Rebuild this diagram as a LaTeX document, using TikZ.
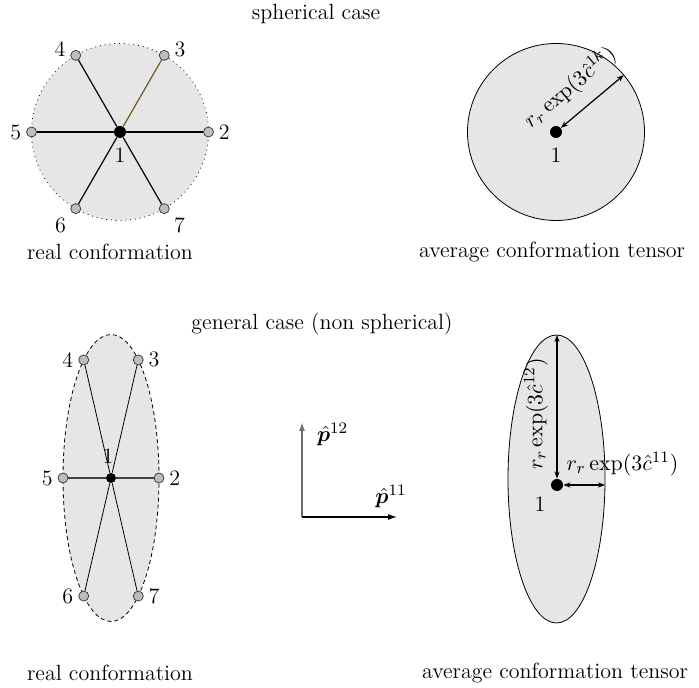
\documentclass[tikz,border=0pt]{standalone}
\usepackage{amsmath,amssymb,bm}
\usepackage{tikz}
\usetikzlibrary{arrows.meta,positioning,calc,shapes.geometric}
\definecolor{myccloud}{HTML}{E6E6E6}
\definecolor{mycbead}{HTML}{BDBDBD}
\definecolor{mycolive}{HTML}{6B5B1E}
\definecolor{mycaxis}{HTML}{6E6E6E}

\begin{document}
\begin{tikzpicture}[
 x=0.5pt,y=0.5pt,
 font=\fontsize{11}{13}\selectfont,
 cloud/.style={fill=myccloud,inner sep=0pt,outer sep=0pt},
 bead/.style={circle,draw=black!75,fill=mycbead,inner sep=0pt,minimum size=5pt},
 ctr/.style={circle,fill=black,inner sep=0pt,minimum size=6pt},
 bond/.style={semithick},
 a/.style={{Stealth[length=3.5pt,width=2.6pt]}-{Stealth[length=3.5pt,width=2.6pt]},semithick},
 ax/.style={-{Latex[length=4.5pt,width=3pt]},semithick},
 label distance=-1pt
]
\useasboundingbox (0,0) rectangle (699,688);

% spherical case
\node (tsph) at (316,674) {spherical case};
\node[cloud,circle,draw,dotted,minimum size=88.5pt] (lc) at (120,556) {};
\node[ctr,label={[label distance=1pt]below:1}] (l1) at (lc.center) {};
\foreach \n/\ang/\pos/\dy in {2/0/right/0,3/60/right/3,4/120/left/3,5/180/left/0,6/240/215/0,7/300/-35/0}
  \node[bead,label={[yshift=\dy pt]\pos:\n}] (l\n) at (lc.\ang) {};
\foreach \n/\c in {2/black,3/mycolive,4/black,5/black,6/black,7/black}
  \draw[bond,\c] (l1) -- (l\n);
\node (lreal) at (110,436) {real conformation};

\node[cloud,circle,draw,minimum size=88.5pt] (rc) at (556,556) {};
\node[ctr,label={[label distance=1pt]below:1}] (r1) at (rc.center) {};
\draw[a] (r1) -- node[sloped,above=3pt,pos=0.4] (rlab) {$r_r\exp(3\hat{c}^{1k})$} (rc.40);
\node (ravg) at (552,436) {average conformation tensor};

% general case
\node (tgen) at (322,364) {general case (non spherical)};
\node[cloud,ellipse,draw,dash pattern=on 2pt off 1.5pt,minimum width=48pt,minimum height=143.5pt] (le) at (111,210) {};
\node[ctr,minimum size=5pt,label={[xshift=-1.5pt,label distance=1pt]above:1}] (e1) at (le.center) {};
\foreach \n/\ang/\pos in {2/0/right,3/77/right,4/103/left,5/180/left,6/257/left,7/283/right}
  \node[bead,label={\pos:\n}] (e\n) at (le.\ang) {};
\foreach \n in {3,4,6,7}
  \draw[thin] (e1) -- (e\n);
\draw[thick,black!75] (e5) -- (e1) -- (e2);
\node (ereal) at (110,15) {real conformation};

\coordinate (o) at (302,171);
\coordinate (oy) at (302,266);
\coordinate (ox) at (397,171);
\draw[ax,mycaxis,thick] (o) -- (oy);
\draw[ax] (o) -- (ox);
\node[below right=-3pt and 4pt of oy] (p12) {$\hat{\bm p}^{12}$};
\node[above=1pt of ox,xshift=-3pt] (p11) {$\hat{\bm p}^{11}$};

\node[cloud,ellipse,draw,minimum width=48.5pt,minimum height=144pt] (re) at (556.5,209) {};
\node[ctr,label={[label distance=0pt]below left:1}] (r2) at (557,203) {};
\coordinate (rt) at (r2 |- re.north);
\coordinate (rr) at (re.east |- r2);
\draw[a] (r2) -- node[sloped,above=1pt,pos=0.45] (vlab) {$r_r\exp(3\hat{c}^{12})$} (rt);
\draw[a] (r2) -- node[pos=0,above right,xshift=-2pt,yshift=1pt] (hlab) {$r_r\exp(3\hat{c}^{11})$} (rr);
\node (eavg) at (555,15) {average conformation tensor};
\end{tikzpicture}
\end{document}
